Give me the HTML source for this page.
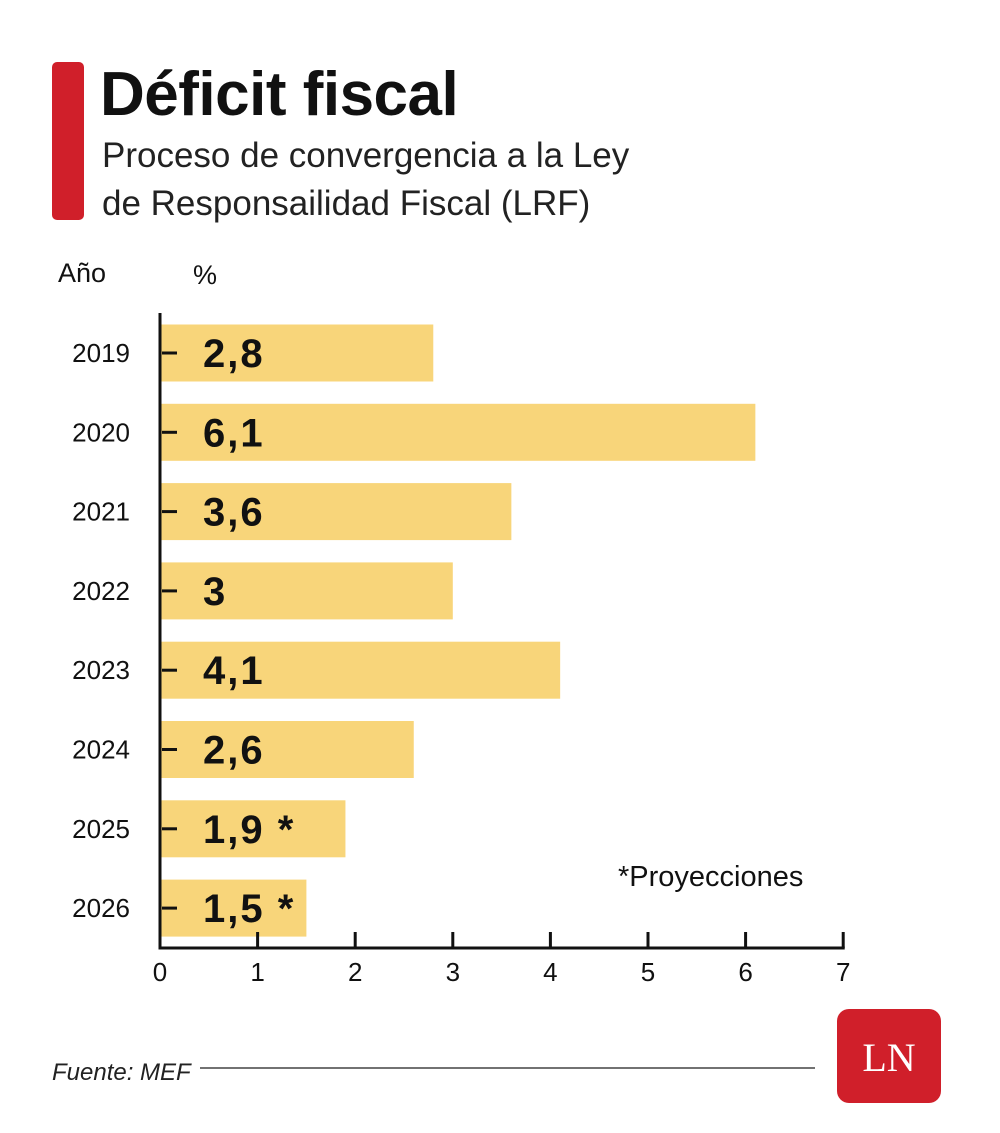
<!DOCTYPE html>
<html><head><meta charset="utf-8"><style>
body{margin:0;background:#fff;}
svg text{font-family:"Liberation Sans",sans-serif;}
</style></head><body>
<svg width="1000" height="1128" viewBox="0 0 1000 1128" xmlns="http://www.w3.org/2000/svg">
<rect x="52" y="62" width="32" height="158" rx="5" fill="#d01f2a"/>
<text x="100" y="115" font-size="62" font-weight="bold" fill="#111" letter-spacing="-0.5">Déficit fiscal</text>
<text x="102" y="167" font-size="35" fill="#222">Proceso de convergencia a la Ley</text>
<text x="102" y="215" font-size="35" fill="#222">de Responsailidad Fiscal (LRF)</text>
<text x="58" y="282" font-size="27" fill="#111">Año</text>
<text x="193" y="284" font-size="27" fill="#111">%</text>
<g id="bars"></g>
<g id="axes"></g>
<text x="618" y="886" font-size="29" fill="#111">*Proyecciones</text>
<text x="52" y="1080" font-size="24" font-style="italic" fill="#222">Fuente: MEF</text>
<line x1="200" y1="1068" x2="815" y2="1068" stroke="#444" stroke-width="1.5"/>
<rect x="837" y="1009" width="104" height="94" rx="12" fill="#d01f2a"/>
<text x="889" y="1071" font-size="40" fill="#fff" text-anchor="middle" style="font-family:'Liberation Serif',serif">LN</text>
</svg>
<script>
const years=["2019","2020","2021","2022","2023","2024","2025","2026"];
const values=[2.8,6.1,3.6,3.0,4.1,2.6,1.9,1.5];
const valueLabels=["2,8","6,1","3,6","3","4,1","2,6","1,9 *","1,5 *"];
const xTicks=[0,1,2,3,4,5,6,7];
const NS="http://www.w3.org/2000/svg";
const x0=160,xs=97.6,yTop=353,step=79.3,bh=57,axisY=948;
const xScale=v=>x0+v*xs;
const yScale=i=>yTop+i*step;
const bars=document.getElementById('bars'),axes=document.getElementById('axes');
function mk(tag,attrs,parent){const e=document.createElementNS(NS,tag);for(const k in attrs)e.setAttribute(k,attrs[k]);parent.appendChild(e);return e;}
years.forEach((y,i)=>{
  const cy=yScale(i);
  const r=mk('rect',{x:x0,y:cy-bh/2,width:xScale(values[i])-x0,height:bh,fill:'#f8d57a'},bars);
  
  
  const t=mk('text',{x:203,y:cy+14,'font-size':40,'font-weight':'bold',fill:'#111','letter-spacing':2},bars);
  t.textContent=valueLabels[i];
  
  
  const yl=mk('text',{x:130,y:cy+9,'font-size':26,fill:'#111','text-anchor':'end'},axes);
  yl.textContent=y;
  
  
  const tk=mk('line',{x1:162,x2:177,y1:cy,y2:cy,stroke:'#111','stroke-width':3},axes);
  
  
});
const va=mk('line',{x1:x0,x2:x0,y1:313,y2:axisY+1.5,stroke:'#111','stroke-width':3},axes);


const ha=mk('line',{x1:x0-1.5,x2:xScale(7)+1.5,y1:axisY,y2:axisY,stroke:'#111','stroke-width':3},axes);


xTicks.forEach(v=>{
  if(v>0){const l=mk('line',{x1:xScale(v),x2:xScale(v),y1:932,y2:axisY,stroke:'#111','stroke-width':3},axes);
  
  }
  const t=mk('text',{x:xScale(v),y:981,'font-size':26,fill:'#111','text-anchor':'middle'},axes);
  t.textContent=v;
  
  
});
</script>
</body></html>
